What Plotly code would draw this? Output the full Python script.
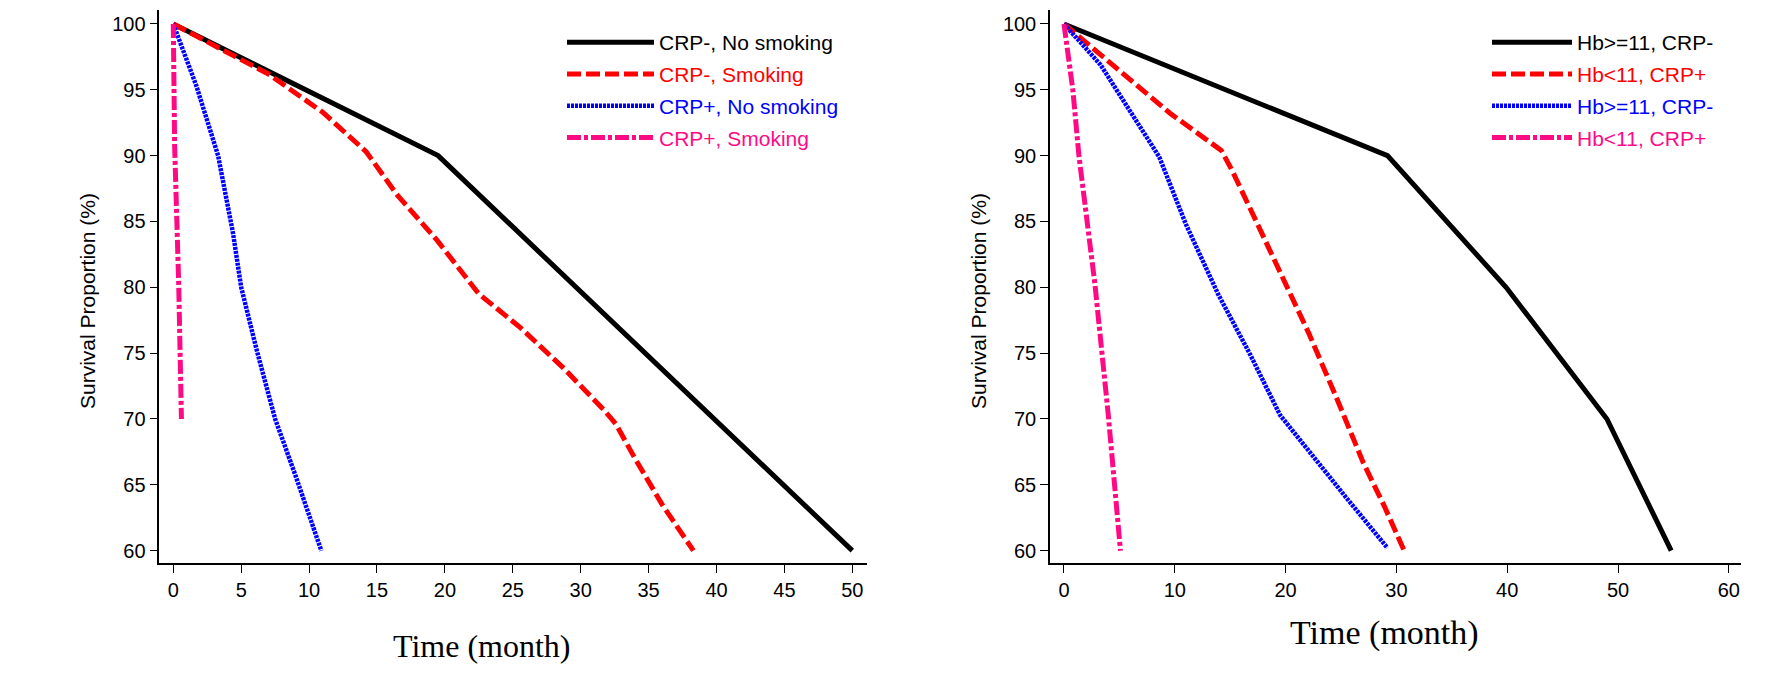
import plotly.graph_objects as go

# ---------------- data ----------------
# Left panel
L_black_x = [0, 19.5, 50]
L_black_y = [100, 90, 60]
L_red_x = [0, 3, 7, 11, 14.2, 16.5, 19.4, 22.5, 25.6, 28.7, 31.7, 32.6, 34, 36, 38.3]
L_red_y = [100, 98.4, 96.2, 93.3, 90.3, 87, 83.6, 79.5, 76.9, 73.9, 70.7, 69.6, 67, 63.5, 60]
L_blue_x = [0, 1.7, 3.3, 4.4, 5, 6.15, 7.5, 9, 10.9]
L_blue_y = [100, 95.3, 90, 84.1, 80, 75.2, 70, 65.7, 60]
L_pink_x = [0, 0.1, 0.4, 0.6]
L_pink_y = [100, 90.7, 80.2, 70]
L_names = ["CRP-, No smoking", "CRP-, Smoking", "CRP+, No smoking", "CRP+, Smoking"]

# Right panel
R_black_x = [0, 29.2, 39.9, 49, 54.8]
R_black_y = [100, 90, 80, 70, 60]
R_red_x = [0, 4, 9.6, 14.2, 15.1, 17.3, 19.7, 22.1, 24.6, 27, 28.9, 30.7]
R_red_y = [100, 97.2, 93.2, 90.4, 89, 85.1, 80.8, 76.5, 71.6, 66.7, 63.4, 60]
R_blue_x = [0, 3.3, 8.6, 11, 13.9, 16.8, 19.5, 22.6, 25.5, 29.2]
R_blue_y = [100, 96.9, 89.9, 84.8, 79.5, 74.9, 70.3, 67, 64, 60.2]
R_pink_x = [0, 0.8, 1.35, 2.8, 4, 5.1]
R_pink_y = [100, 95, 90, 80.2, 70.3, 60]
R_names = ["Hb>=11, CRP-", "Hb<11, CRP+", "Hb>=11, CRP-", "Hb<11, CRP+"]

L_xticks = list(range(0, 51, 5))
R_xticks = list(range(0, 61, 10))
yticks = list(range(60, 101, 5))

# ---------------- styles ----------------
colors = ["#000000", "#ff0000", "#0000ff", "#ff0a85"]
dashes = ["solid", "14px,5px", "3px,1px", "14px,3px,4px,3px"]
widths = [5, 5, 4.5, 5]

W, H = 1779, 678
fig = go.Figure()

left = [(L_black_x, L_black_y), (L_red_x, L_red_y), (L_blue_x, L_blue_y), (L_pink_x, L_pink_y)]
right = [(R_black_x, R_black_y), (R_red_x, R_red_y), (R_blue_x, R_blue_y), (R_pink_x, R_pink_y)]

for i, (xs, ys) in enumerate(left):
    fig.add_trace(go.Scatter(
        x=xs, y=ys, mode="lines", xaxis="x", yaxis="y",
        line=dict(color=colors[i], width=widths[i], dash=dashes[i]),
        name=f"<span style='color:{colors[i]}'>{L_names[i]}</span>",
        legend="legend", legendgroup=f"L{i}"))
for i, (xs, ys) in enumerate(right):
    fig.add_trace(go.Scatter(
        x=xs, y=ys, mode="lines", xaxis="x2", yaxis="y2",
        line=dict(color=colors[i], width=widths[i], dash=dashes[i]),
        name=f"<span style='color:{colors[i]}'>{R_names[i]}</span>",
        legend="legend2", legendgroup=f"R{i}"))

tickfont = dict(family="Liberation Sans, Arial", size=20, color="black")
axis_common = dict(showgrid=False, zeroline=False, showline=True, linecolor="black",
                   linewidth=1.5, ticks="outside", ticklen=8, tickwidth=1.2,
                   tickcolor="black", tickfont=tickfont, mirror=False)

ydom = [1 - 563.3 / H, 1 - 10 / H]
fig.update_layout(
    width=W, height=H,
    margin=dict(l=0, r=0, t=0, b=0),
    paper_bgcolor="white", plot_bgcolor="white",
    showlegend=True,
    xaxis=dict(domain=[159.3 / W, 866.7 / W], range=[-1.03, 51.06],
               tickvals=L_xticks, anchor="y", **axis_common),
    yaxis=dict(domain=ydom, range=[59.04, 101.06], tickvals=yticks,
               anchor="x", **axis_common),
    xaxis2=dict(domain=[1050 / W, 1741 / W], range=[-1.26, 61.1],
                tickvals=R_xticks, anchor="y2", **axis_common),
    yaxis2=dict(domain=ydom, range=[59.04, 101.06], tickvals=yticks,
                anchor="x2", **axis_common),
    legend=dict(x=562 / W, y=1 - 22 / H, xanchor="left", yanchor="top",
                itemwidth=87, tracegroupgap=1.5, bgcolor="rgba(0,0,0,0)",
                font=dict(family="Liberation Sans, Arial", size=21)),
    legend2=dict(x=1487 / W, y=1 - 22 / H, xanchor="left", yanchor="top",
                 itemwidth=80, tracegroupgap=1.5, bgcolor="rgba(0,0,0,0)",
                 font=dict(family="Liberation Sans, Arial", size=21)),
)

ytitle_font = dict(family="Liberation Sans, Arial", size=21, color="black")
xtitle_font = dict(family="Liberation Serif, Times New Roman", size=32, color="black")
fig.add_annotation(text="Survival Proportion (%)", xref="paper", yref="paper",
                   x=87 / W, y=1 - 301 / H, textangle=-90, showarrow=False,
                   font=ytitle_font, xanchor="center", yanchor="middle")
fig.add_annotation(text="Survival Proportion (%)", xref="paper", yref="paper",
                   x=978 / W, y=1 - 301 / H, textangle=-90, showarrow=False,
                   font=ytitle_font, xanchor="center", yanchor="middle")
fig.add_annotation(text="Time (month)", xref="paper", yref="paper",
                   x=482 / W, y=1 - 646 / H, showarrow=False,
                   font=xtitle_font, xanchor="center", yanchor="middle")
fig.add_annotation(text="Time (month)", xref="paper", yref="paper",
                   x=1384 / W, y=1 - 633 / H, showarrow=False,
                   font=dict(family="Liberation Serif, Times New Roman", size=34, color="black"),
                   xanchor="center", yanchor="middle")

fig.write_html("out.html")
